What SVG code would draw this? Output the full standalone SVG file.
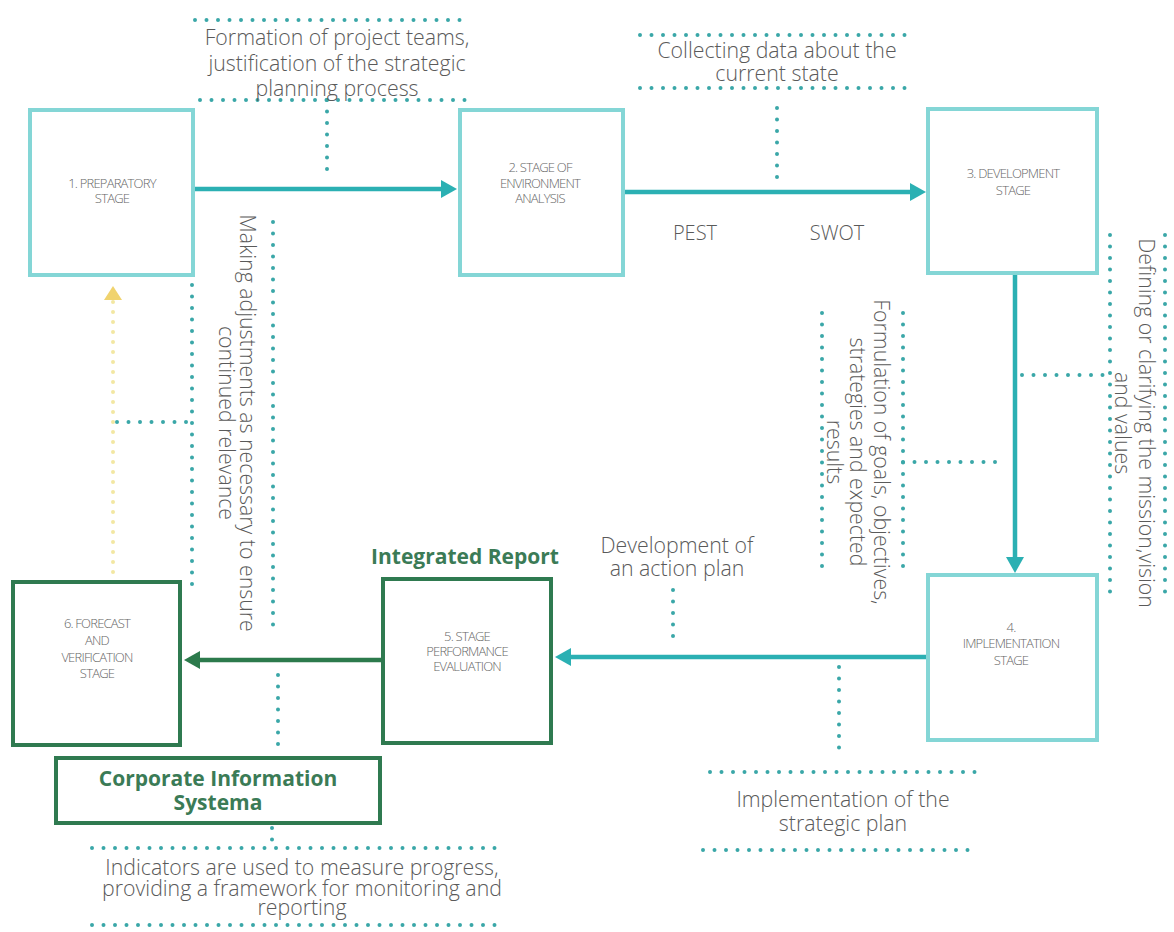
<svg xmlns="http://www.w3.org/2000/svg" width="1174" height="932" viewBox="0 0 1174 932">
<style>
.bg{fill:#ffffff}
.tbox{fill:#ffffff;stroke:#84d6d6;stroke-width:4}
.gbox{fill:#ffffff;stroke:#2f7a50;stroke-width:4}
.arr{fill:none;stroke:#2bb0b3;stroke-width:4.5}
.garr{fill:none;stroke:#2c7a4c;stroke-width:4.5}
.yarr{fill:none;stroke:#f2e7a2;stroke-width:4;stroke-dasharray:0 10;stroke-linecap:round}
.dot{fill:none;stroke:#3aa7a8;stroke-width:4;stroke-dasharray:0 11.5;stroke-linecap:round}
.lbl{font-family:"Open Sans","Liberation Sans",sans-serif;font-size:13px;font-weight:300;fill:#666666;letter-spacing:-0.8px;text-anchor:middle}
.note{font-family:"Open Sans","Liberation Sans",sans-serif;font-size:21.3px;font-weight:300;fill:#5a5a5a;text-anchor:middle}
.big{font-family:"Open Sans","Liberation Sans",sans-serif;font-size:21px;font-weight:700;fill:#3b7b56;text-anchor:middle}
</style>
<defs>
<marker id="ht" markerUnits="userSpaceOnUse" markerWidth="18" markerHeight="20" refX="2" refY="9" orient="auto"><path d="M0,0 L16,9 L0,18 z" fill="#2bb0b3"/></marker>
<marker id="hg" markerUnits="userSpaceOnUse" markerWidth="18" markerHeight="20" refX="2" refY="9" orient="auto"><path d="M0,0 L16,9 L0,18 z" fill="#2c7a4c"/></marker>
<marker id="hy" markerUnits="userSpaceOnUse" markerWidth="18" markerHeight="20" refX="2" refY="9" orient="auto"><path d="M0,0 L14,9 L0,18 z" fill="#f0d36e"/></marker>
</defs>
<rect class="bg" x="0" y="0" width="1174" height="932"/>

<g id="connectors">
  <line class="arr" x1="195" y1="189" x2="443" y2="189" marker-end="url(#ht)"/>
  <line class="arr" x1="625" y1="192" x2="912" y2="192" marker-end="url(#ht)"/>
  <line class="arr" x1="1015" y1="275" x2="1015" y2="559" marker-end="url(#ht)"/>
  <line class="arr" x1="926" y1="657" x2="569" y2="657" marker-end="url(#ht)"/>
  <line class="garr" x1="381" y1="660" x2="198" y2="660" marker-end="url(#hg)"/>
  <line class="yarr" x1="113" y1="572" x2="113" y2="300"/>
  <path d="M113,300 L113,298" fill="none" stroke="#f2e7a2" stroke-width="3" marker-end="url(#hy)"/>

  <path class="dot" d="M195,20 H463"/>
  <path class="dot" d="M200,100 H467"/>
  <path class="dot" d="M327,100 V178"/>

  <path class="dot" d="M640,35 H907"/>
  <path class="dot" d="M640,88 H907"/>
  <path class="dot" d="M777,108 V178"/>

  <path class="dot" d="M192,285 V593"/>
  <path class="dot" d="M273,222 V625"/>
  <path class="dot" d="M117,422 H192"/>

  <path class="dot" d="M1110,235 V603"/>
  <path class="dot" d="M1165,235 V603"/>
  <path class="dot" d="M1022,375 H1110"/>

  <path class="dot" d="M822,313 V577"/>
  <path class="dot" d="M903,313 V577"/>
  <path class="dot" d="M903,462 H1003"/>

  <path class="dot" d="M673,590 V647"/>

  <path class="dot" d="M839,667 V758"/>
  <path class="dot" d="M710,772 H977"/>
  <path class="dot" d="M703,850 H970"/>

  <path class="dot" d="M278,675 V745"/>

  <path class="dot" d="M272,828 V848"/>
  <path class="dot" d="M92,848 H506"/>
  <path class="dot" d="M92,925 H506"/>
</g>

<g id="n1">
  <rect class="tbox" x="30" y="110" width="163" height="165"/>
  <text class="lbl" x="112" y="188">1. PREPARATORY</text>
  <text class="lbl" x="112" y="203">STAGE</text>
</g>
<g id="n2">
  <rect class="tbox" x="460" y="110" width="163" height="165"/>
  <text class="lbl" x="540" y="172">2. STAGE OF</text>
  <text class="lbl" x="540" y="188">ENVIRONMENT</text>
  <text class="lbl" x="540" y="203">ANALYSIS</text>
</g>
<g id="n3">
  <rect class="tbox" x="928" y="109" width="169" height="164"/>
  <text class="lbl" x="1013" y="178">3. DEVELOPMENT</text>
  <text class="lbl" x="1013" y="195">STAGE</text>
</g>
<g id="n4">
  <rect class="tbox" x="928" y="575" width="169" height="165"/>
  <text class="lbl" x="1011" y="632">4.</text>
  <text class="lbl" x="1011" y="648">IMPLEMENTATION</text>
  <text class="lbl" x="1011" y="665">STAGE</text>
</g>
<g id="n5">
  <rect class="gbox" x="383" y="579" width="168" height="164"/>
  <text class="lbl" x="467" y="641">5. STAGE</text>
  <text class="lbl" x="467" y="656">PERFORMANCE</text>
  <text class="lbl" x="467" y="671">EVALUATION</text>
</g>
<g id="n6">
  <rect class="gbox" x="13" y="582" width="167" height="163"/>
  <text class="lbl" x="97" y="628">6. FORECAST</text>
  <text class="lbl" x="97" y="645">AND</text>
  <text class="lbl" x="97" y="662">VERIFICATION</text>
  <text class="lbl" x="97" y="678">STAGE</text>
</g>
<g id="cis">
  <rect class="gbox" x="56" y="758" width="324" height="65"/>
  <text class="big" x="218" y="786">Corporate Information</text>
  <text class="big" x="218" y="810">Systema</text>
</g>
<g id="integrated-report">
  <text class="big" x="465" y="564">Integrated Report</text>
</g>

<g id="note-formation">
  <text class="note" x="337" y="45">Formation of project teams,</text>
  <text class="note" x="337" y="71">justification of the strategic</text>
  <text class="note" x="337" y="96">planning process</text>
</g>
<g id="note-collecting">
  <text class="note" x="777" y="58">Collecting data about the</text>
  <text class="note" x="777" y="81">current state</text>
</g>
<g id="note-pest">
  <text class="note" x="695" y="240" style="font-size:20px">PEST</text>
  <text class="note" x="837" y="240" style="font-size:20px">SWOT</text>
</g>
<g id="note-adjust">
  <text class="note" transform="translate(240,423) rotate(90)">Making adjustments as necessary to ensure</text>
  <text class="note" transform="translate(219,423) rotate(90)">continued relevance</text>
</g>
<g id="note-defining">
  <text class="note" transform="translate(1139,423) rotate(90)">Defining or clarifying the mission,vision</text>
  <text class="note" transform="translate(1115,423) rotate(90)">and values</text>
</g>
<g id="note-formulation">
  <text class="note" transform="translate(874,452) rotate(90)">Formulation of goals, objectives,</text>
  <text class="note" transform="translate(850,452) rotate(90)">strategies and expected</text>
  <text class="note" transform="translate(827,452) rotate(90)">results</text>
</g>
<g id="note-development">
  <text class="note" x="677" y="553">Development of</text>
  <text class="note" x="677" y="576">an action plan</text>
</g>
<g id="note-implementation">
  <text class="note" x="843" y="807">Implementation of the</text>
  <text class="note" x="843" y="831">strategic plan</text>
</g>
<g id="note-indicators">
  <text class="note" x="302" y="875">Indicators are used to measure progress,</text>
  <text class="note" x="302" y="896">providing a framework for monitoring and</text>
  <text class="note" x="302" y="915">reporting</text>
</g>
</svg>
